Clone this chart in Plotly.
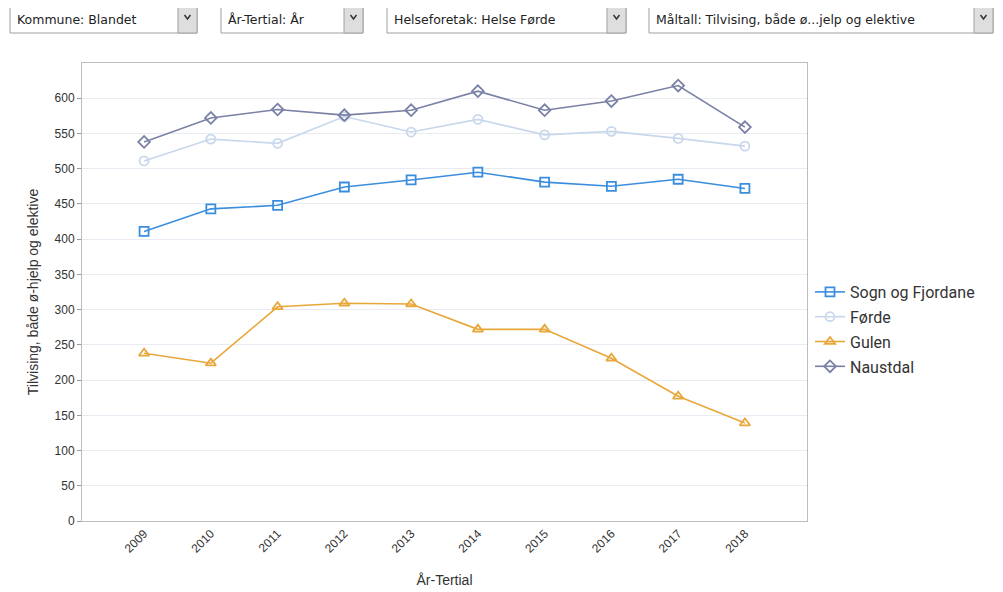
import plotly.graph_objects as go

years = ["2009", "2010", "2011", "2012", "2013", "2014", "2015", "2016", "2017", "2018"]
sogn_og_fjordane = [411, 443, 448, 474, 484, 495, 481, 475, 485, 472]
forde = [511, 542, 536, 574, 552, 570, 548, 553, 543, 532]
gulen = [238, 224, 304, 309, 308, 272, 272, 231, 177, 139]
naustdal = [538, 572, 584, 576, 583, 610, 583, 596, 618, 559]
y_ticks = [0, 50, 100, 150, 200, 250, 300, 350, 400, 450, 500, 550, 600]

dropdown_labels = ["Kommune: Blandet", "År-Tertial: År", "Helseforetak: Helse Førde",
                   "Måltall: Tilvising, både ø...jelp og elektive"]

# page has an 8px body margin; page coordinates below
OFF = 8
W, H = 1003 - OFF, 592 - OFF
L, R, T, B = 82, 807, 63, 521


def px(x):
    return (x - L) / (R - L)


def py(y):
    return (B - y) / (B - T)


fig = go.Figure()
series = [
    ("Sogn og Fjordane", sogn_og_fjordane, "#3b8ede", "square-open"),
    ("Førde", forde, "#c8d7ec", "circle-open"),
    ("Gulen", gulen, "#e8a73a", "triangle-up-open"),
    ("Naustdal", naustdal, "#7a80a6", "diamond-open"),
]
for name, vals, col, sym in series:
    fig.add_trace(go.Scatter(
        x=years, y=vals, name=name, mode="lines+markers", legendgroup=name,
        line=dict(color=col, width=1.6),
        marker=dict(symbol=sym, size=9, color=col, line=dict(width=1.8, color=col)),
    ))

shapes = []
annotations = []
boxes = [(10, 178, 197), (221, 344, 363), (387, 607, 626), (649, 974, 993)]
for (x0, xa, x1), lab in zip(boxes, dropdown_labels):
    shapes.append(dict(type="rect", xref="paper", yref="paper",
                       x0=px(x0), x1=px(x1), y0=py(33), y1=py(7),
                       line=dict(color="#a0a0a0", width=1), fillcolor="white", layer="above"))
    shapes.append(dict(type="rect", xref="paper", yref="paper",
                       x0=px(xa), x1=px(x1), y0=py(33), y1=py(7),
                       line=dict(color="#a0a0a0", width=1), fillcolor="#dedede", layer="above"))
    cx = (xa + x1) / 2
    shapes.append(dict(type="path", xref="paper", yref="paper",
                       path=f"M {px(cx-3)},{py(15)} L {px(cx)},{py(19)} L {px(cx+3)},{py(15)}",
                       line=dict(color="#333333", width=1.5), layer="above"))
    annotations.append(dict(text=lab, xref="paper", yref="paper", x=px(x0 + 5), y=py(20),
                            xanchor="left", yanchor="middle", showarrow=False,
                            font=dict(family="DejaVu Sans", size=12.5, color="#222222")))

fig.update_layout(
    width=W, height=H,
    margin=dict(l=L - OFF, r=W - (R - OFF), t=T - OFF, b=H - (B - OFF)),
    paper_bgcolor="white", plot_bgcolor="white",
    font=dict(family="Liberation Sans, Arial", color="#333333"),
    showlegend=True,
    legend=dict(x=px(810), y=py(275), xanchor="left", yanchor="top",
                font=dict(family="Roboto", size=16, color="#333333"),
                tracegroupgap=1, itemwidth=30, bgcolor="rgba(0,0,0,0)"),
    shapes=shapes, annotations=annotations,
)
fig.update_xaxes(
    type="category", range=[-0.93, 9.93], tickangle=-45, automargin=False,
    tickfont=dict(size=12, color="#333333"),
    showgrid=False, showline=True, linecolor="#bdbdbd", mirror=True, ticks="",
    title=dict(text="År-Tertial", font=dict(size=14, color="#333333"), standoff=20),
)
fig.update_yaxes(
    range=[0, 650], tickvals=y_ticks, tickfont=dict(size=12, color="#333333"), automargin=False,
    showgrid=True, gridcolor="#e8ecf2", gridwidth=1,
    showline=True, linecolor="#bdbdbd", mirror=True, ticks="outside", ticklen=4, tickcolor="#999999",
    zeroline=False,
    title=dict(text="Tilvising, både ø-hjelp og elektive", font=dict(size=14, color="#333333"), standoff=12),
)

fig.write_html("out.html")
